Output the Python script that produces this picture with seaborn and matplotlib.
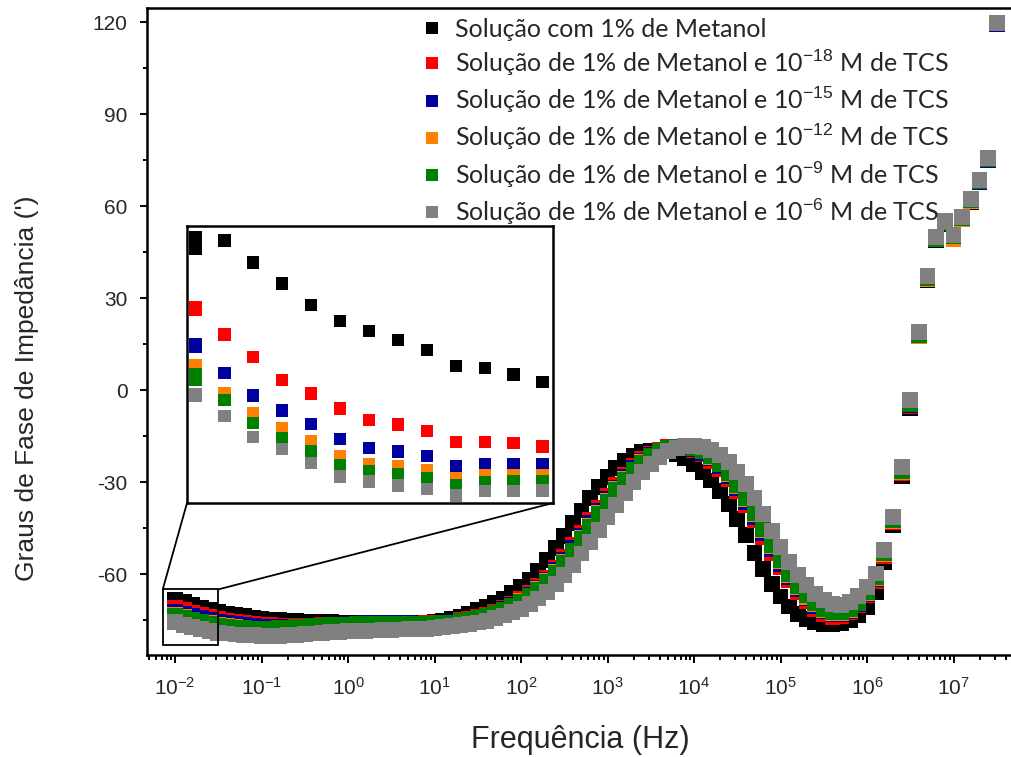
import numpy as np
import pandas as pd
import matplotlib
matplotlib.use("Agg")
import matplotlib.pyplot as plt
import seaborn as sns
from matplotlib.patches import Rectangle, ConnectionPatch
from matplotlib.ticker import LogLocator, FixedLocator, NullFormatter, FuncFormatter

# ---------------- data ----------------
# measurement grid: 10 points per decade, 10^-2 ... 10^7.5 Hz
log_freq = np.round(np.arange(-2.0, 7.55, 0.1), 1)
freq = 10 ** log_freq

series_names = [
    "Solução com 1% de Metanol",
    "Solução de 1% de Metanol e 10$^{-18}$ M de TCS",
    "Solução de 1% de Metanol e 10$^{-15}$ M de TCS",
    "Solução de 1% de Metanol e 10$^{-12}$ M de TCS",
    "Solução de 1% de Metanol e 10$^{-9}$ M de TCS",
    "Solução de 1% de Metanol e 10$^{-6}$ M de TCS",
]
series_colors = ["#000000", "#ff0000", "#0000a0", "#ff8000", "#008000", "#808080"]

phase_black = [
    -68.5, -69.2, -70.1, -71.0, -71.8, -72.4, -72.9, -73.3, -73.8, -74.3,
    -74.6, -74.9, -75.1, -75.3, -75.4, -75.5, -75.6, -75.7, -75.7, -75.8,
    -75.8, -75.9, -75.9, -76.0, -76.0, -76.0, -76.0, -76.0, -76.0, -75.9,
    -75.7, -75.3, -74.7, -73.9, -72.9, -71.8, -70.6, -69.4, -68.0, -66.3,
    -64.3, -61.9, -59.0, -55.5, -51.5, -47.5, -43.4, -39.3, -35.3, -31.6,
    -28.3, -25.5, -23.2, -21.5, -20.3, -19.7, -19.5, -19.8, -20.8, -22.3,
    -24.2, -26.6, -29.5, -33.0, -37.2, -42.0, -47.3, -53.0, -58.3, -63.2,
    -67.3, -70.6, -73.0, -74.7, -75.8, -76.3, -76.3, -75.9, -74.9, -73.3,
    -70.8, -66.0, -56.0, -44.0, -28.0, -6.0, 17.5, 36.0, 49.0, 54.2,
    49.8, 55.6, 61.4, 67.7, 75.0, 119.5,
]
phase_red = [
    -71.0, -71.8, -72.6, -73.4, -74.1, -74.7, -75.2, -75.6, -76.0, -76.3,
    -76.5, -76.7, -76.8, -76.9, -76.9, -76.9, -76.8, -76.7, -76.6, -76.5,
    -76.4, -76.3, -76.3, -76.2, -76.2, -76.2, -76.2, -76.2, -76.2, -76.1,
    -76.0, -75.8, -75.5, -75.1, -74.6, -74.0, -73.2, -72.3, -71.2, -69.8,
    -68.2, -66.2, -63.9, -61.2, -58.0, -54.5, -50.6, -46.5, -42.4, -38.4,
    -34.5, -30.9, -27.6, -24.8, -22.5, -20.7, -19.4, -18.7, -18.5, -18.8,
    -19.6, -21.0, -23.0, -25.7, -29.0, -33.0, -37.5, -42.5, -47.8, -53.0,
    -57.8, -62.0, -65.8, -68.9, -71.3, -73.0, -73.9, -73.8, -72.5, -70.2,
    -67.0, -62.2, -54.0, -43.2, -27.2, -5.2, 17.6, 36.2, 49.2, 54.5,
    50.0, 55.9, 61.6, 67.9, 75.1, 119.5,
]
phase_blue = [
    -72.3, -73.0, -73.7, -74.4, -75.0, -75.5, -75.9, -76.3, -76.6, -76.9,
    -77.1, -77.2, -77.3, -77.3, -77.3, -77.2, -77.1, -77.0, -76.8, -76.6,
    -76.4, -76.2, -76.1, -76.0, -76.0, -76.0, -76.0, -76.1, -76.2, -76.2,
    -76.2, -76.0, -75.7, -75.3, -74.8, -74.2, -73.5, -72.6, -71.5, -70.2,
    -68.6, -66.7, -64.5, -61.9, -58.8, -55.4, -51.6, -47.5, -43.4, -39.4,
    -35.5, -31.8, -28.4, -25.4, -23.0, -21.1, -19.7, -18.8, -18.4, -18.5,
    -19.2, -20.4, -22.3, -24.9, -28.1, -32.0, -36.4, -41.3, -46.6, -51.8,
    -56.7, -61.0, -64.8, -68.0, -70.5, -72.2, -73.2, -73.2, -72.0, -69.8,
    -66.5, -61.6, -53.6, -42.8, -26.8, -4.8, 17.6, 36.2, 49.2, 54.4,
    50.0, 55.9, 61.6, 67.9, 75.1, 119.5,
]
phase_orange = [
    -73.2, -74.0, -74.8, -75.5, -76.1, -76.6, -77.0, -77.3, -77.6, -77.8,
    -77.9, -78.0, -78.0, -77.9, -77.8, -77.6, -77.4, -77.2, -77.0, -76.9,
    -76.8, -76.7, -76.6, -76.6, -76.5, -76.5, -76.5, -76.5, -76.5, -76.5,
    -76.4, -76.2, -75.9, -75.5, -75.0, -74.4, -73.7, -72.8, -71.7, -70.4,
    -68.9, -67.0, -64.9, -62.4, -59.4, -56.0, -52.3, -48.3, -44.2, -40.1,
    -36.2, -32.4, -29.0, -25.9, -23.4, -21.4, -19.9, -18.9, -18.4, -18.4,
    -18.9, -20.0, -21.8, -24.3, -27.4, -31.2, -35.6, -40.4, -45.6, -50.8,
    -55.8, -60.3, -64.2, -67.4, -69.9, -71.7, -72.7, -72.8, -71.7, -69.6,
    -66.2, -61.3, -53.4, -42.6, -26.6, -4.6, 17.7, 36.3, 49.2, 54.5,
    49.3, 55.9, 61.7, 68.0, 75.2, 119.6,
]
phase_green = [
    -73.6, -74.3, -75.0, -75.7, -76.3, -76.8, -77.2, -77.5, -77.7, -77.8,
    -77.8, -77.8, -77.7, -77.6, -77.4, -77.2, -77.0, -76.8, -76.7, -76.6,
    -76.5, -76.4, -76.4, -76.3, -76.3, -76.3, -76.3, -76.3, -76.3, -76.3,
    -76.3, -76.1, -75.8, -75.4, -75.0, -74.4, -73.7, -72.8, -71.8, -70.5,
    -69.0, -67.2, -65.1, -62.6, -59.7, -56.3, -52.6, -48.6, -44.5, -40.4,
    -36.5, -32.7, -29.2, -26.1, -23.6, -21.5, -20.0, -18.9, -18.4, -18.3,
    -18.8, -19.9, -21.6, -24.0, -27.1, -30.9, -35.2, -40.0, -45.2, -50.4,
    -55.4, -59.9, -63.8, -67.0, -69.6, -71.4, -72.4, -72.5, -71.5, -69.4,
    -66.0, -61.0, -53.2, -42.4, -26.4, -4.5, 17.8, 36.4, 49.3, 54.6,
    50.1, 56.0, 61.8, 68.0, 75.2, 119.6,
]
phase_gray = [
    -75.7, -76.5, -77.3, -78.0, -78.6, -79.1, -79.4, -79.7, -79.9, -80.0,
    -80.1, -80.1, -80.1, -80.0, -79.8, -79.6, -79.4, -79.2, -79.0, -78.8,
    -78.7, -78.6, -78.5, -78.4, -78.3, -78.2, -78.1, -78.0, -77.9, -77.8,
    -77.6, -77.3, -77.0, -76.7, -76.3, -75.8, -75.2, -74.4, -73.5, -72.5,
    -71.3, -69.8, -68.0, -65.8, -63.3, -60.3, -57.0, -53.3, -49.5, -45.5,
    -41.5, -37.5, -33.6, -30.0, -26.8, -24.0, -21.7, -20.0, -18.9, -18.3,
    -18.2, -18.6, -19.6, -21.2, -23.5, -26.6, -30.5, -35.2, -40.5, -46.0,
    -51.3, -56.0, -60.2, -63.7, -66.5, -68.5, -69.7, -70.0, -69.2, -67.2,
    -64.2, -59.8, -52.2, -41.3, -25.0, -3.3, 19.0, 37.2, 49.8, 55.2,
    50.5, 56.5, 62.2, 68.5, 75.7, 119.8,
]

# inset (magnified low-frequency region): point index and phase
inset_pos = [0, 0, 1, 2, 3, 4, 5, 6, 7, 8, 9, 10, 11, 12]
inset_black = [-68.01, -68.52, -68.16, -69.18, -70.15, -71.15, -71.88, -72.36,
               -72.78, -73.25, -73.97, -74.07, -74.38, -74.72]
inset_red = [-71.26, -71.35, -72.52, -73.56, -74.64, -75.26, -75.96, -76.50,
             -76.69, -77.01, -77.51, -77.51, -77.55, -77.71]
inset_blue = [-72.97, -73.09, -74.30, -75.34, -76.04, -76.66, -77.38, -77.79,
              -77.94, -78.17, -78.62, -78.52, -78.52, -78.56]
inset_orange = [-73.94, -74.02, -75.23, -76.16, -76.89, -77.48, -78.17, -78.53,
                -78.61, -78.81, -79.18, -79.04, -79.04, -79.07]
inset_green = [-74.36, -74.61, -75.57, -76.62, -77.35, -77.94, -78.59, -78.86,
               -79.01, -79.17, -79.52, -79.38, -79.32, -79.32]
inset_gray = [-75.29, -75.38, -76.31, -77.28, -77.83, -78.47, -79.10, -79.34,
              -79.52, -79.68, -79.99, -79.79, -79.79, -79.76]

x_tick_exponents = [-2, -1, 0, 1, 2, 3, 4, 5, 6, 7]
y_ticks = [-60, -30, 0, 30, 60, 90, 120]
y_minor_ticks = [-75, -45, -15, 15, 45, 75, 105]

main_values = [phase_black, phase_red, phase_blue, phase_orange, phase_green, phase_gray]
inset_values = [inset_black, inset_red, inset_blue, inset_orange, inset_green, inset_gray]

df = pd.concat(
    [pd.DataFrame({"freq": freq, "phase": v, "serie": n}) for n, v in zip(series_names, main_values)],
    ignore_index=True,
)
df_in = pd.concat(
    [pd.DataFrame({"pos": inset_pos, "phase": v, "serie": n}) for n, v in zip(series_names, inset_values)],
    ignore_index=True,
)
palette = dict(zip(series_names, series_colors))

# ---------------- style ----------------
sns.set_style("ticks")
plt.rcParams["font.family"] = ["Liberation Sans", "DejaVu Sans"]
plt.rcParams["axes.unicode_minus"] = False
plt.rcParams["mathtext.fontset"] = "custom"
plt.rcParams["mathtext.rm"] = "Liberation Sans"
plt.rcParams["mathtext.it"] = "Liberation Sans:italic"
plt.rcParams["mathtext.bf"] = "Liberation Sans:bold"

W, H = 1012, 757
fig = plt.figure(figsize=(W / 100, H / 100), dpi=100)
ax_l, ax_r, ax_t, ax_b = 147, 1012, 8, 655
ax = fig.add_axes([ax_l / W, 1 - ax_b / H, (ax_r - ax_l) / W, (ax_b - ax_t) / H])

MAIN_S = 130
sns.scatterplot(data=df, x="freq", y="phase", hue="serie", hue_order=series_names,
                palette=palette, marker="s", s=MAIN_S, linewidth=0, alpha=1,
                ax=ax, legend=True)
ax.set_xscale("log")
ax.set_xlim(10 ** -2.324, 10 ** 7.676)
ax.set_ylim(-86.4, 124.6)

ax.xaxis.set_major_locator(FixedLocator([10.0 ** e for e in x_tick_exponents]))
ax.xaxis.set_major_formatter(FuncFormatter(lambda v, p: "$\\mathregular{10^{%d}}$" % int(round(np.log10(v)))))
ax.xaxis.set_minor_locator(LogLocator(base=10, subs=np.arange(2, 10), numticks=100))
ax.xaxis.set_minor_formatter(NullFormatter())
ax.yaxis.set_major_locator(FixedLocator(y_ticks))
ax.yaxis.set_minor_locator(FixedLocator(y_minor_ticks))

for s in ["left", "bottom", "top"]:
    ax.spines[s].set_linewidth(1.8)
    ax.spines[s].set_color("black")
ax.spines["right"].set_visible(False)
ax.tick_params(axis="both", which="both", direction="out", color="black", width=1.4)
ax.tick_params(axis="y", which="major", length=5, pad=9, labelsize=15)
ax.tick_params(axis="y", which="minor", length=3)
ax.tick_params(axis="x", which="major", length=6, pad=10, labelsize=15)
ax.tick_params(axis="x", which="minor", length=3.5)
ax.tick_params(top=False, right=False, which="both")

ax.set_xlabel("Frequência (Hz)", fontsize=22)
ax.set_ylabel("Graus de Fase de Impedância (')", fontsize=19)
ax.xaxis.set_label_coords((580 - ax_l) / (ax_r - ax_l), -(740 - ax_b) / (ax_b - ax_t), transform=ax.transAxes)
ax.xaxis.label.set_va("center")
ax.yaxis.set_label_coords(-(ax_l - 27) / (ax_r - ax_l), (ax_b - 388) / (ax_b - ax_t))
ax.yaxis.label.set_va("center")

# legend
handles, labels = ax.get_legend_handles_labels()
leg = ax.legend(handles, labels, loc="upper left",
                bbox_to_anchor=(423 / W, 1 - 18 / H), bbox_transform=fig.transFigure,
                frameon=False, borderpad=0, borderaxespad=0, handlelength=0.7,
                handletextpad=0.6, labelspacing=0.27, markerscale=0.72,
                prop={"family": ["Lato", "DejaVu Sans"], "size": 18})

# zoom box on the main axes
zx0, zx1, zy0, zy1 = 10 ** -2.142, 10 ** -1.499, -83.2, -65.0
ax.add_patch(Rectangle((zx0, zy0), zx1 - zx0, zy1 - zy0, fill=False, ec="black", lw=1.3, zorder=5))

# inset axes
axin = fig.add_axes([187 / W, 1 - 503 / H, 366 / W, 277 / H])
sns.scatterplot(data=df_in, x="pos", y="phase", hue="serie", hue_order=series_names,
                palette=palette, marker="s", s=80, linewidth=0, alpha=1,
                ax=axin, legend=False)
axin.set_xlim(-0.29, 12.36)
axin.set_ylim(-80.34, -67.48)
axin.set_xticks([])
axin.set_yticks([])
axin.set_xlabel("")
axin.set_ylabel("")
for s in axin.spines.values():
    s.set_linewidth(1.8)
    s.set_color("black")

for (xa, ya, xb, yb) in [(zx0, zy1, 0, 0), (zx1, zy1, 1, 0)]:
    con = ConnectionPatch(xyA=(xa, ya), coordsA=ax.transData, xyB=(xb, yb), coordsB=axin.transAxes,
                          color="black", lw=1.3)
    fig.add_artist(con)

fig.savefig("out.png", dpi=100)
